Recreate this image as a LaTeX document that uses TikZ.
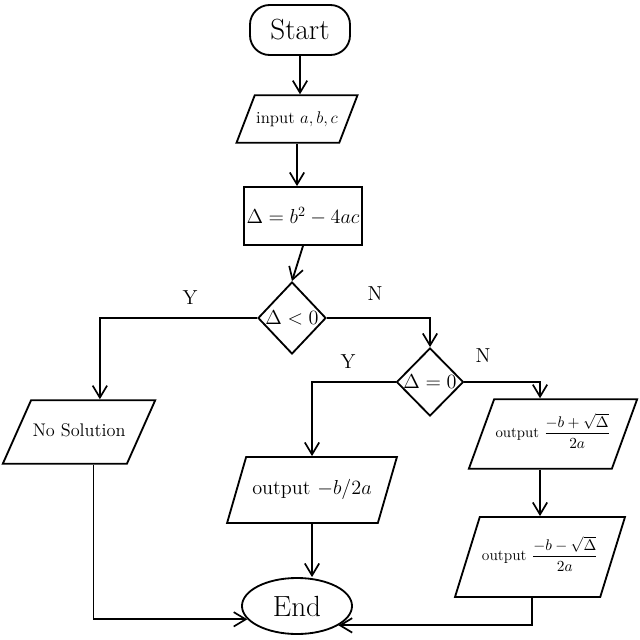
\documentclass[tikz,border=0pt]{standalone}
\usepackage{amsmath,amssymb}
\usepackage{tikz}
\usetikzlibrary{calc,arrows.meta,positioning,shapes.geometric}

\begin{document}
\begin{tikzpicture}[x=0.025cm,y=-0.025cm,
    line width=1.3pt,
    flow/.style={-{Straight Barb[length=3mm,width=3.6mm,line width=1.2pt]}},
    terminal/.style={draw, rounded corners=14pt, inner sep=2pt},
    iobox/.style={draw, trapezium, trapezium stretches=true, inner xsep=1pt,
        text height=0.35cm, text depth=0.12cm},
    iofrac/.style={iobox, text height=0.5cm, text depth=0.32cm, font=\fontsize{11}{13}\selectfont},
    procbox/.style={draw, rectangle, inner sep=2pt},
    decision/.style={draw, diamond, inner sep=0pt, font=\Large},
    branch/.style={font=\Large}]
    \useasboundingbox (0,0) rectangle (640,640);

    % main column
    \node[terminal, minimum width=2.5cm, minimum height=1.25cm, font=\huge] (startNode) at (300,30) {Start};
    \node[iobox, trapezium left angle=69, trapezium right angle=111, inner ysep=0.36cm,
          minimum width=2.95cm, font=\large] (inputBox) at (297,119) {input $a,b,c$};
    \node[procbox, minimum width=2.83cm, minimum height=1.45cm, font=\Large] (deltaBox) at (303,216) {$\Delta=b^2-4ac$};
    \node[decision, minimum width=1.7cm, minimum height=1.8cm] (ltCheck) at (292,318) {$\Delta<0$};
    \node[decision, minimum width=1.45cm, minimum height=1.7cm] (eqCheck) at (430,382) {$\Delta=0$};

    % outputs
    \node[iobox, trapezium left angle=66, trapezium right angle=114, inner ysep=0.56cm,
          minimum width=3.55cm, font=\fontsize{13}{15}\selectfont] (noSol) at (79,432) {No Solution};
    \node[iobox, trapezium left angle=75, trapezium right angle=105, inner ysep=0.59cm,
          minimum width=4.25cm, font=\Large] (outZero) at (312,490) {output $-b/2a$};
    \node[iofrac, trapezium left angle=70, trapezium right angle=110, inner ysep=0.46cm,
          minimum width=3.9cm, font=\fontsize{10.5}{12}\selectfont] (outPlus) at (553,434) {output $\dfrac{-b+\sqrt{\Delta}}{2a}$};
    \node[iofrac, trapezium left angle=73, trapezium right angle=107, inner ysep=0.59cm,
          minimum width=4.25cm] (outMinus) at (540,557) {output $\dfrac{-b-\sqrt{\Delta}}{2a}$};
    \node[draw, ellipse, minimum width=2.75cm, minimum height=1.4cm, font=\huge] (endNode) at (297,606) {End};

    % branch labels
    \node[branch] (yesOne) at (190,298) {Y};
    \node[branch] (noOne) at (375,294) {N};
    \node[branch] (yesTwo) at (348,362) {Y};
    \node[branch] (noTwo) at (483,356) {N};

    % connectors
    \draw[flow] (startNode.south) -- (startNode.south |- inputBox.north);
    \draw[flow] (inputBox.south) -- (inputBox.south |- deltaBox.north);
    \draw[flow] (deltaBox.south) -- (ltCheck.north);
    \draw[flow] (ltCheck.west) -| ($(noSol.top left corner)!0.55!(noSol.top right corner)$);
    \draw[flow] (ltCheck.east) -| (eqCheck.north);
    \draw[flow] (eqCheck.west) -| (outZero.north);
    \draw[flow] (eqCheck.east) -| (outMinus.north |- outPlus.north);
    \draw[flow] (outMinus.north |- outPlus.south) -- (outMinus.north);
    \draw[flow] (outZero.south) -- (outZero.south |- endNode.north);
    \draw[flow] ($(noSol.bottom left corner)!0.73!(noSol.bottom right corner)$) |- (endNode.195);
    \draw[flow] ($(outMinus.bottom left corner)!0.53!(outMinus.bottom right corner)$) |- (endNode.-25);
\end{tikzpicture}
\end{document}
